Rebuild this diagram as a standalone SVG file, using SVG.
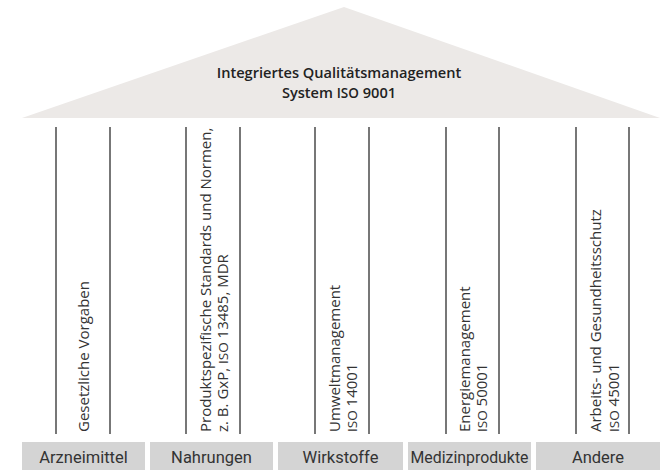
<svg xmlns="http://www.w3.org/2000/svg" width="664" height="470" viewBox="0 0 664 470">
<style>
.roof{fill:#ece9e7}
.col{stroke:#555;stroke-width:1.6}
.box{fill:#d4d4d4}
.vt{font-family:"Open Sans","DejaVu Sans",sans-serif;font-size:15px;fill:#333}
.bt{font-family:Roboto,"Liberation Sans",sans-serif;font-size:16.5px;fill:#333;text-anchor:middle}
.rt{font-family:"Open Sans","DejaVu Sans",sans-serif;font-size:14.6px;font-weight:600;fill:#222;text-anchor:middle}
.iso{font-size:13.5px}
</style>
<g id="roof">
<polygon class="roof" points="344,7 660,118 22,118"/>
<text class="rt" x="339" y="78">Integriertes Qualitätsmanagement</text>
<text class="rt" x="339" y="98">System <tspan class="iso">ISO</tspan> 9001</text>
</g>
<g id="connectors">
<line class="col" x1="56" y1="127" x2="56" y2="434"/>
<line class="col" x1="110" y1="127" x2="110" y2="434"/>
<line class="col" x1="186" y1="127" x2="186" y2="434"/>
<line class="col" x1="240" y1="127" x2="240" y2="434"/>
<line class="col" x1="315" y1="127" x2="315" y2="434"/>
<line class="col" x1="369" y1="127" x2="369" y2="434"/>
<line class="col" x1="446" y1="127" x2="446" y2="434"/>
<line class="col" x1="499" y1="127" x2="499" y2="434"/>
<line class="col" x1="576" y1="127" x2="576" y2="434"/>
<line class="col" x1="629" y1="127" x2="629" y2="434"/>
</g>
<g id="pillar1">
<text class="vt" transform="translate(89,432) rotate(-90)">Gesetzliche Vorgaben</text>
</g>
<g id="pillar2">
<text class="vt" transform="translate(211,432) rotate(-90)">Produktspezifische Standards und Normen,</text>
<text class="vt" transform="translate(228,432) rotate(-90)">z. B. GxP, <tspan class="iso">ISO</tspan> 13485, MDR</text>
</g>
<g id="pillar3">
<text class="vt" transform="translate(340,432) rotate(-90)">Umweltmanagement</text>
<text class="vt" transform="translate(357,432) rotate(-90)"><tspan class="iso">ISO</tspan> 14001</text>
</g>
<g id="pillar4">
<text class="vt" transform="translate(470,432) rotate(-90)">Energiemanagement</text>
<text class="vt" transform="translate(487,432) rotate(-90)"><tspan class="iso">ISO</tspan> 50001</text>
</g>
<g id="pillar5">
<text class="vt" transform="translate(601,432) rotate(-90)">Arbeits- und Gesundheitsschutz</text>
<text class="vt" transform="translate(619,432) rotate(-90)"><tspan class="iso">ISO</tspan> 45001</text>
</g>
<g id="box1"><rect class="box" x="22" y="442" width="123" height="28"/><text class="bt" x="83.5" y="463">Arzneimittel</text></g>
<g id="box2"><rect class="box" x="150" y="442" width="123" height="28"/><text class="bt" x="211.5" y="463">Nahrungen</text></g>
<g id="box3"><rect class="box" x="278" y="442" width="125" height="28"/><text class="bt" x="340.5" y="463">Wirkstoffe</text></g>
<g id="box4"><rect class="box" x="408" y="442" width="123" height="28"/><text class="bt" x="469.5" y="463" textLength="118" lengthAdjust="spacingAndGlyphs">Medizinprodukte</text></g>
<g id="box5"><rect class="box" x="536" y="442" width="124" height="28"/><text class="bt" x="598" y="463">Andere</text></g>
</svg>
